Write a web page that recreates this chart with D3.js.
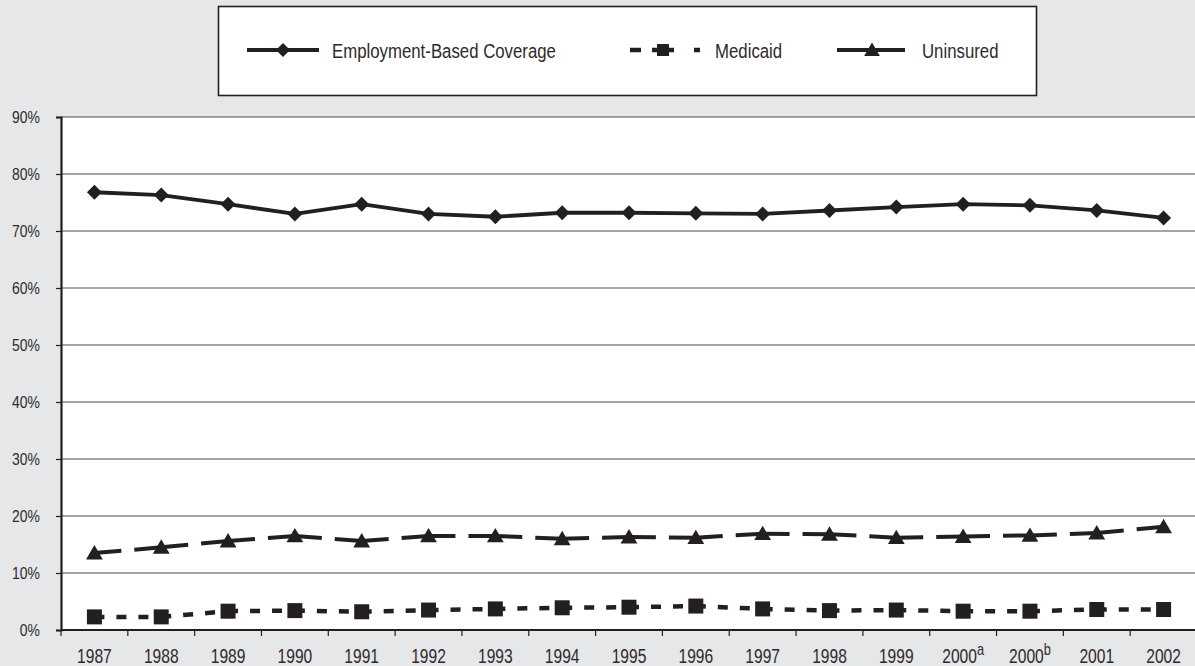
<!DOCTYPE html>
<html>
<head>
<meta charset="utf-8">
<script src="https://cdn.jsdelivr.net/npm/d3@7/dist/d3.min.js"></script>
<style>
  html, body { margin: 0; padding: 0; background: #e6e7e8; }
  svg { display: block; }
  text { font-family: "Liberation Sans Narrow", "Liberation Sans", Arial, sans-serif; fill: #2e2a2b; }
</style>
</head>
<body>
<svg id="chart" width="1195" height="666"></svg>
<script>
// Share of the population by source of health coverage, 1987–2002
const categories = ["1987", "1988", "1989", "1990", "1991", "1992", "1993", "1994", "1995",
  "1996", "1997", "1998", "1999", "2000a", "2000b", "2001", "2002"];
const employmentBased = [76.8, 76.3, 74.7, 73.0, 74.7, 73.0, 72.5, 73.2, 73.2, 73.1, 73.0, 73.6, 74.2, 74.7, 74.5, 73.6, 72.3];
const medicaid = [2.3, 2.3, 3.3, 3.4, 3.2, 3.5, 3.7, 3.9, 4.0, 4.2, 3.7, 3.4, 3.5, 3.3, 3.3, 3.6, 3.6];
const uninsured = [13.5, 14.5, 15.6, 16.5, 15.6, 16.5, 16.5, 16.0, 16.3, 16.2, 16.9, 16.8, 16.2, 16.4, 16.6, 17.0, 18.1];
const yTicks = [0, 10, 20, 30, 40, 50, 60, 70, 80, 90];
const seriesNames = ["Employment-Based Coverage", "Medicaid", "Uninsured"];

const ink = "#231f20";
const svg = d3.select("#chart");
const W = 1195, H = 666;
const plot = { left: 61, right: 1197, top: 117, bottom: 630 };

const x = d3.scaleBand().domain(categories).range([plot.left, plot.right]).padding(0);
const cx = c => x(c) + x.bandwidth() / 2;
const y = d3.scaleLinear().domain([0, 90]).range([plot.bottom, plot.top]);

// places a condensed text label at (px, py): the regular sans is squeezed horizontally
function label(parent, px, py, size, anchor, squeeze = 0.82) {
  return parent.append("g")
    .attr("transform", `translate(${px},${py}) scale(${squeeze},1)`)
    .append("text")
    .attr("font-size", size)
    .attr("text-anchor", anchor);
}

// plot background
svg.append("rect")
  .attr("x", plot.left).attr("y", plot.top)
  .attr("width", W - plot.left).attr("height", plot.bottom - plot.top)
  .attr("fill", "#ffffff");

// horizontal gridlines
svg.append("g").selectAll("line")
  .data(yTicks.filter(t => t > 0))
  .join("line")
  .attr("x1", plot.left).attr("x2", W)
  .attr("y1", d => y(d)).attr("y2", d => y(d))
  .attr("stroke", "#4d4d4f").attr("stroke-width", 1.2);

// y axis
const yAxis = d3.axisLeft(y).tickValues(yTicks).tickFormat("").tickSize(5);
const gy = svg.append("g").attr("transform", `translate(${plot.left},0)`).call(yAxis);
gy.select(".domain").attr("stroke", ink).attr("stroke-width", 2.2);
gy.selectAll(".tick line").attr("stroke", ink).attr("stroke-width", 1.2);
yTicks.forEach(t => {
  label(svg, 40, y(t) + 6, 17, "end").text(t + "%");
});

// x axis: ticks on band boundaries, labels at band centres
const gx = svg.append("g");
gx.append("line")
  .attr("x1", plot.left).attr("x2", W)
  .attr("y1", plot.bottom).attr("y2", plot.bottom)
  .attr("stroke", ink).attr("stroke-width", 2.2);
gx.selectAll("line.tick")
  .data(categories)
  .join("line")
  .attr("class", "tick")
  .attr("x1", d => x(d)).attr("x2", d => x(d))
  .attr("y1", plot.bottom).attr("y2", plot.bottom + 6)
  .attr("stroke", ink).attr("stroke-width", 1.2);
categories.forEach(c => {
  const m = c.match(/^(\d{4})([a-z]?)$/);
  const t = label(gx, cx(c), 663, 19.5, "middle", 0.8);
  t.append("tspan").text(m[1]);
  if (m[2]) t.append("tspan").attr("dy", -8).attr("font-size", 16).text(m[2]);
});

// marker shapes
const diamond = s => `M0,${-s}L${s},0L0,${s}L${-s},0Z`;
const square = s => `M${-s},${-s}H${s}V${s}H${-s}Z`;
const triangle = s => `M0,${-s}L${s * 1.05},${s * 0.8}L${-s * 1.05},${s * 0.8}Z`;

// draws a series segment by segment so the dash pattern restarts between points
function drawSeries(values, opts) {
  const pts = categories.map((c, i) => [cx(c), y(values[i])]);
  const g = svg.append("g");
  if (!opts.dash) {
    g.append("path")
      .attr("d", d3.line()(pts))
      .attr("fill", "none").attr("stroke", ink)
      .attr("stroke-width", opts.width).attr("stroke-linejoin", "round");
  } else {
    g.selectAll("line")
      .data(d3.pairs(pts))
      .join("line")
      .attr("x1", d => d[0][0]).attr("y1", d => d[0][1])
      .attr("x2", d => d[1][0]).attr("y2", d => d[1][1])
      .attr("stroke", ink).attr("stroke-width", opts.width)
      .attr("stroke-dasharray", d => opts.dash(Math.hypot(d[1][0] - d[0][0], d[1][1] - d[0][1])));
  }
  g.selectAll("path.mk")
    .data(pts)
    .join("path")
    .attr("class", "mk")
    .attr("transform", d => `translate(${d[0]},${d[1]})`)
    .attr("d", opts.marker)
    .attr("fill", ink);
}

drawSeries(employmentBased, { width: 3.8, marker: diamond(7.5) });
drawSeries(medicaid, { width: 4.5, marker: square(7.5), dash: () => "10,12" });
drawSeries(uninsured, {
  width: 4, marker: triangle(8),
  dash: L => `${(L - 13) / 2},13,${(L - 13) / 2}`
});

// legend
const lg = svg.append("g");
lg.append("rect")
  .attr("x", 218.5).attr("y", 6.5).attr("width", 818).attr("height", 89)
  .attr("fill", "#ffffff").attr("stroke", ink).attr("stroke-width", 1.6);
const ly = 50;
// Employment-Based Coverage
lg.append("line").attr("x1", 247).attr("x2", 319).attr("y1", ly).attr("y2", ly)
  .attr("stroke", ink).attr("stroke-width", 4);
lg.append("path").attr("transform", `translate(283,${ly})`).attr("d", diamond(7)).attr("fill", ink);
// Medicaid
[[630, 641], [652, 674], [694, 700]].forEach(([a, b]) =>
  lg.append("line").attr("x1", a).attr("x2", b).attr("y1", ly).attr("y2", ly)
    .attr("stroke", ink).attr("stroke-width", 4.5));
lg.append("path").attr("transform", `translate(663,${ly})`).attr("d", square(6)).attr("fill", ink);
// Uninsured
lg.append("line").attr("x1", 837).attr("x2", 905).attr("y1", ly).attr("y2", ly)
  .attr("stroke", ink).attr("stroke-width", 4);
lg.append("path").attr("transform", `translate(872,${ly})`).attr("d", triangle(7.5)).attr("fill", ink);

seriesNames.forEach((name, i) => {
  label(lg, [332, 715, 922][i], ly + 7.5, 21, "start", 0.8).text(name);
});
</script>
</body>
</html>
